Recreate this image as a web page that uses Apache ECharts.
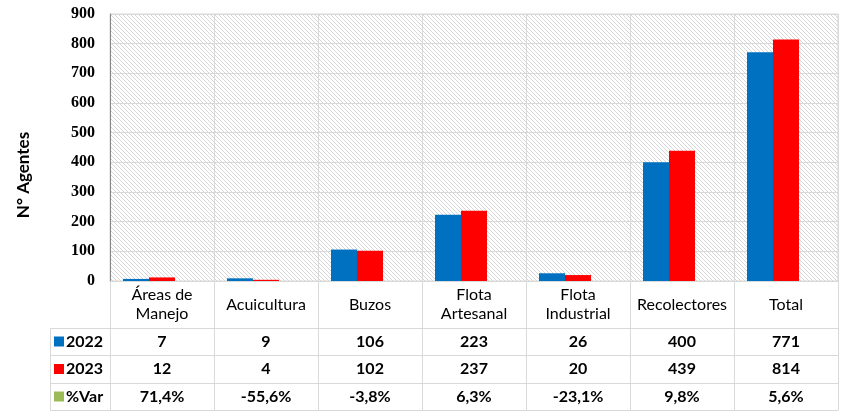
<!DOCTYPE html>
<html>
<head>
<meta charset="utf-8">
<script src="https://cdn.jsdelivr.net/npm/echarts@6/dist/echarts.min.js"></script>
<style>
  html, body { margin: 0; padding: 0; background: #fff; }
  #chart { width: 846px; height: 412px; }
</style>
</head>
<body>
<div id="chart"></div>
<script>
// datos
const categories = ['Áreas de\nManejo', 'Acuicultura', 'Buzos', 'Flota\nArtesanal', 'Flota\nIndustrial', 'Recolectores', 'Total'];
const agentes2022 = [7, 9, 106, 223, 26, 400, 771];
const agentes2023 = [12, 4, 102, 237, 20, 439, 814];
const pctVar = [0.714, -0.556, -0.038, 0.063, -0.231, 0.098, 0.056];
const pctVarLabels = ['71,4%', '-55,6%', '-3,8%', '6,3%', '-23,1%', '9,8%', '5,6%'];
const yTicks = [0, 900, 100];

const gridLine = '#d9d9d9';
const txtFont = 'Lato';
const verde = '#9bbb59';

// fondo rayado del área de trazado
const pat = document.createElement('canvas');
pat.width = 4; pat.height = 4;
const pctx = pat.getContext('2d');
pctx.fillStyle = '#ffffff';
pctx.fillRect(0, 0, 4, 4);
pctx.fillStyle = '#d6d6d6';
for (let i = 0; i < 4; i++) pctx.fillRect(i, i, 1, 1);

// filas de la tabla de datos
const tableRows = [
  { offset: 47, values: agentes2022.map(String) },
  { offset: 74, values: agentes2023.map(String) },
  { offset: 102, values: pctVarLabels },
  { offset: 129, values: null }
];

const rowAxes = tableRows.map((r, k) => ({
  type: 'category',
  gridIndex: 0,
  position: 'bottom',
  offset: r.offset,
  data: categories,
  axisLine: { show: true, lineStyle: { color: gridLine, width: 1 } },
  axisTick: { show: false },
  splitLine: { show: false },
  axisLabel: {
    show: !!r.values,
    interval: 0,
    margin: k === 1 ? 14 : 13.5,
    verticalAlign: 'middle',
    fontFamily: txtFont,
    fontSize: 16,
    fontWeight: 'bold',
    color: '#000',
    formatter: (v, i) => r.values ? r.values[i] : ''
  }
}));

const chart = echarts.init(document.getElementById('chart'));
chart.setOption({
  animation: false,
  grid: {
    left: 110, right: 8, top: 14, height: 267,
    show: true,
    backgroundColor: { image: pat, repeat: 'repeat' },
    borderColor: gridLine,
    borderWidth: 1
  },
  legend: {
    data: ['2022', '2023', '%Var'],
    orient: 'vertical',
    left: 54, top: 333,
    padding: 0,
    itemWidth: 10, itemHeight: 10,
    itemGap: 10.5,
    icon: 'rect',
    textStyle: { fontFamily: txtFont, fontSize: 16, fontWeight: 'bold', color: '#000', lineHeight: 17, padding: [0, 0, 0, -3] }
  },
  xAxis: [{
    type: 'category',
    data: categories,
    axisLine: { show: true, lineStyle: { color: gridLine } },
    axisTick: { show: true, length: 129, interval: 0, lineStyle: { color: gridLine } },
    splitLine: { show: true, interval: 0, lineStyle: { color: gridLine } },
    axisLabel: {
      interval: 0,
      margin: 23.5,
      verticalAlign: 'middle',
      fontFamily: txtFont,
      fontSize: 16,
      lineHeight: 19,
      color: '#000'
    }
  }].concat(rowAxes),
  yAxis: {
    type: 'value',
    min: yTicks[0], max: yTicks[1], interval: yTicks[2],
    name: 'N° Agentes',
    nameLocation: 'middle',
    nameGap: 78,
    nameTextStyle: { fontFamily: txtFont, fontSize: 17, fontWeight: 'bold', color: '#000', padding: [0, 55, 0, 0] },
    axisLine: { show: true, lineStyle: { color: '#868686' } },
    axisTick: { show: false },
    splitLine: { lineStyle: { color: gridLine } },
    axisLabel: { fontFamily: 'Liberation Serif', fontSize: 16, fontWeight: 'bold', color: '#000', margin: 15 }
  },
  graphic: [
    { type: 'polyline', shape: { points: [[110, 328.5], [50.5, 328.5], [50.5, 410.5], [110, 410.5]] }, style: { stroke: gridLine, fill: null, lineWidth: 1 }, silent: true },
    { type: 'line', shape: { x1: 50.5, y1: 355.5, x2: 110, y2: 355.5 }, style: { stroke: gridLine, lineWidth: 1 }, silent: true },
    { type: 'line', shape: { x1: 50.5, y1: 383.5, x2: 110, y2: 383.5 }, style: { stroke: gridLine, lineWidth: 1 }, silent: true }
  ],
  series: [
    { name: '2022', type: 'bar', data: agentes2022, barWidth: 26, barGap: '0%', itemStyle: { color: '#0070c0' } },
    { name: '2023', type: 'bar', data: agentes2023, barWidth: 26, barGap: '0%', itemStyle: { color: '#ff0000' } },
    {
      // las variaciones positivas quedan bajo el eje, casi invisibles
      name: '%Var', type: 'bar', barWidth: 26, barGap: '0%', barMinHeight: 2,
      itemStyle: { color: verde },
      data: pctVar.map(v => ({ value: v, itemStyle: { opacity: v < 0 ? 1 : 0 } }))
    }
  ]
});
</script>
</body>
</html>
